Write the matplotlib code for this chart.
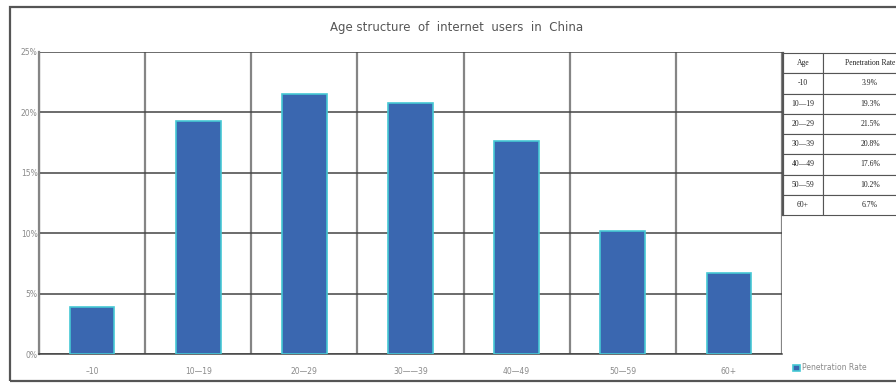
import matplotlib
matplotlib.use("Agg")
import matplotlib.pyplot as plt
from matplotlib.patches import Rectangle
from matplotlib.ticker import FixedLocator, PercentFormatter

ages = ["\u201310", "10\u201419", "20\u201429", "30\u2014\u201439", "40\u201449", "50\u201459", "60+"]
table_ages = ["-10", "10\u201419", "20\u201429", "30\u201439", "40\u201449", "50\u201459", "60+"]
rates = [3.9, 19.3, 21.5, 20.8, 17.6, 10.2, 6.7]
rate_labels = ["3.9%", "19.3%", "21.5%", "20.8%", "17.6%", "10.2%", "6.7%"]

bar_color = "#3a67b0"
edge_color = "#45c8d4"
grid_color = "#444444"

fig = plt.figure(figsize=(8.96, 3.83), dpi=100)

# outer frame
fig.patches.append(Rectangle((10 / 896, 2 / 383), 0.999, 1 - 9 / 383, transform=fig.transFigure,
                             fill=False, edgecolor="#555555", linewidth=1.6, clip_on=False))

ax = fig.add_axes([39 / 896, 1 - 354 / 383, 743 / 896, 302 / 383])
x = list(range(len(ages)))
ax.bar(x, rates, width=0.42, color=bar_color, edgecolor=edge_color, linewidth=1.2,
       label="Penetration Rate", zorder=3)
ax.set_xlim(-0.5, len(ages) - 0.5)
ax.set_ylim(0, 25)
ax.set_yticks([0, 5, 10, 15, 20, 25])
ax.yaxis.set_major_formatter(PercentFormatter(decimals=0))
ax.set_xticks(x)
ax.set_xticklabels(ages)
ax.xaxis.set_minor_locator(FixedLocator([i - 0.5 for i in range(len(ages) + 1)]))
ax.grid(axis="y", which="major", color=grid_color, linewidth=1.1, zorder=1)
ax.grid(axis="x", which="minor", color="#858585", linewidth=1.6, zorder=1)
ax.tick_params(axis="both", which="both", length=0, labelsize=5.5, labelcolor="#8a8a8a")
ax.tick_params(axis="x", pad=9)
ax.tick_params(axis="y", pad=1)
for s in ["top", "right"]:
    ax.spines[s].set_visible(False)
ax.spines["left"].set_color("#858585")
ax.spines["bottom"].set_color(grid_color)
ax.spines["left"].set_linewidth(1.6)
ax.spines["bottom"].set_linewidth(1.1)

fig.text(457 / 896, 1 - 27 / 383, "Age structure  of  internet  users  in  China",
         ha="center", va="center", fontsize=8.5, color="#555555")

# table on the right
tax = fig.add_axes([783 / 896, 1 - 215 / 383, 134 / 896, 162 / 383])
tax.axis("off")
cells = [[a, r] for a, r in zip(table_ages, rate_labels)]
tbl = tax.table(cellText=cells, colLabels=["Age", "Penetration Rate"],
                colWidths=[0.3, 0.7], cellLoc="center", bbox=[0, 0, 1, 1])
tbl.auto_set_font_size(False)
for (r, c), cell in tbl.get_celld().items():
    cell.set_edgecolor("#555555")
    cell.set_linewidth(0.8)
    cell.get_text().set_fontsize(5.5)
    cell.get_text().set_family("Liberation Serif")
    cell.get_text().set_color("#222222")
    if c == 0:
        cell.visible_edges = "BRT"
tax.plot([0, 0], [0, 1], color="#555555", linewidth=1.6, transform=tax.transAxes, clip_on=False)

fig.legend(loc="center left", bbox_to_anchor=(790 / 896, 1 - 368 / 383), frameon=False,
           fontsize=5.5, labelcolor="#8a8a8a", handlelength=0.9, handleheight=0.9,
           handletextpad=0.3, borderaxespad=0)

fig.savefig("out.png", dpi=100)
